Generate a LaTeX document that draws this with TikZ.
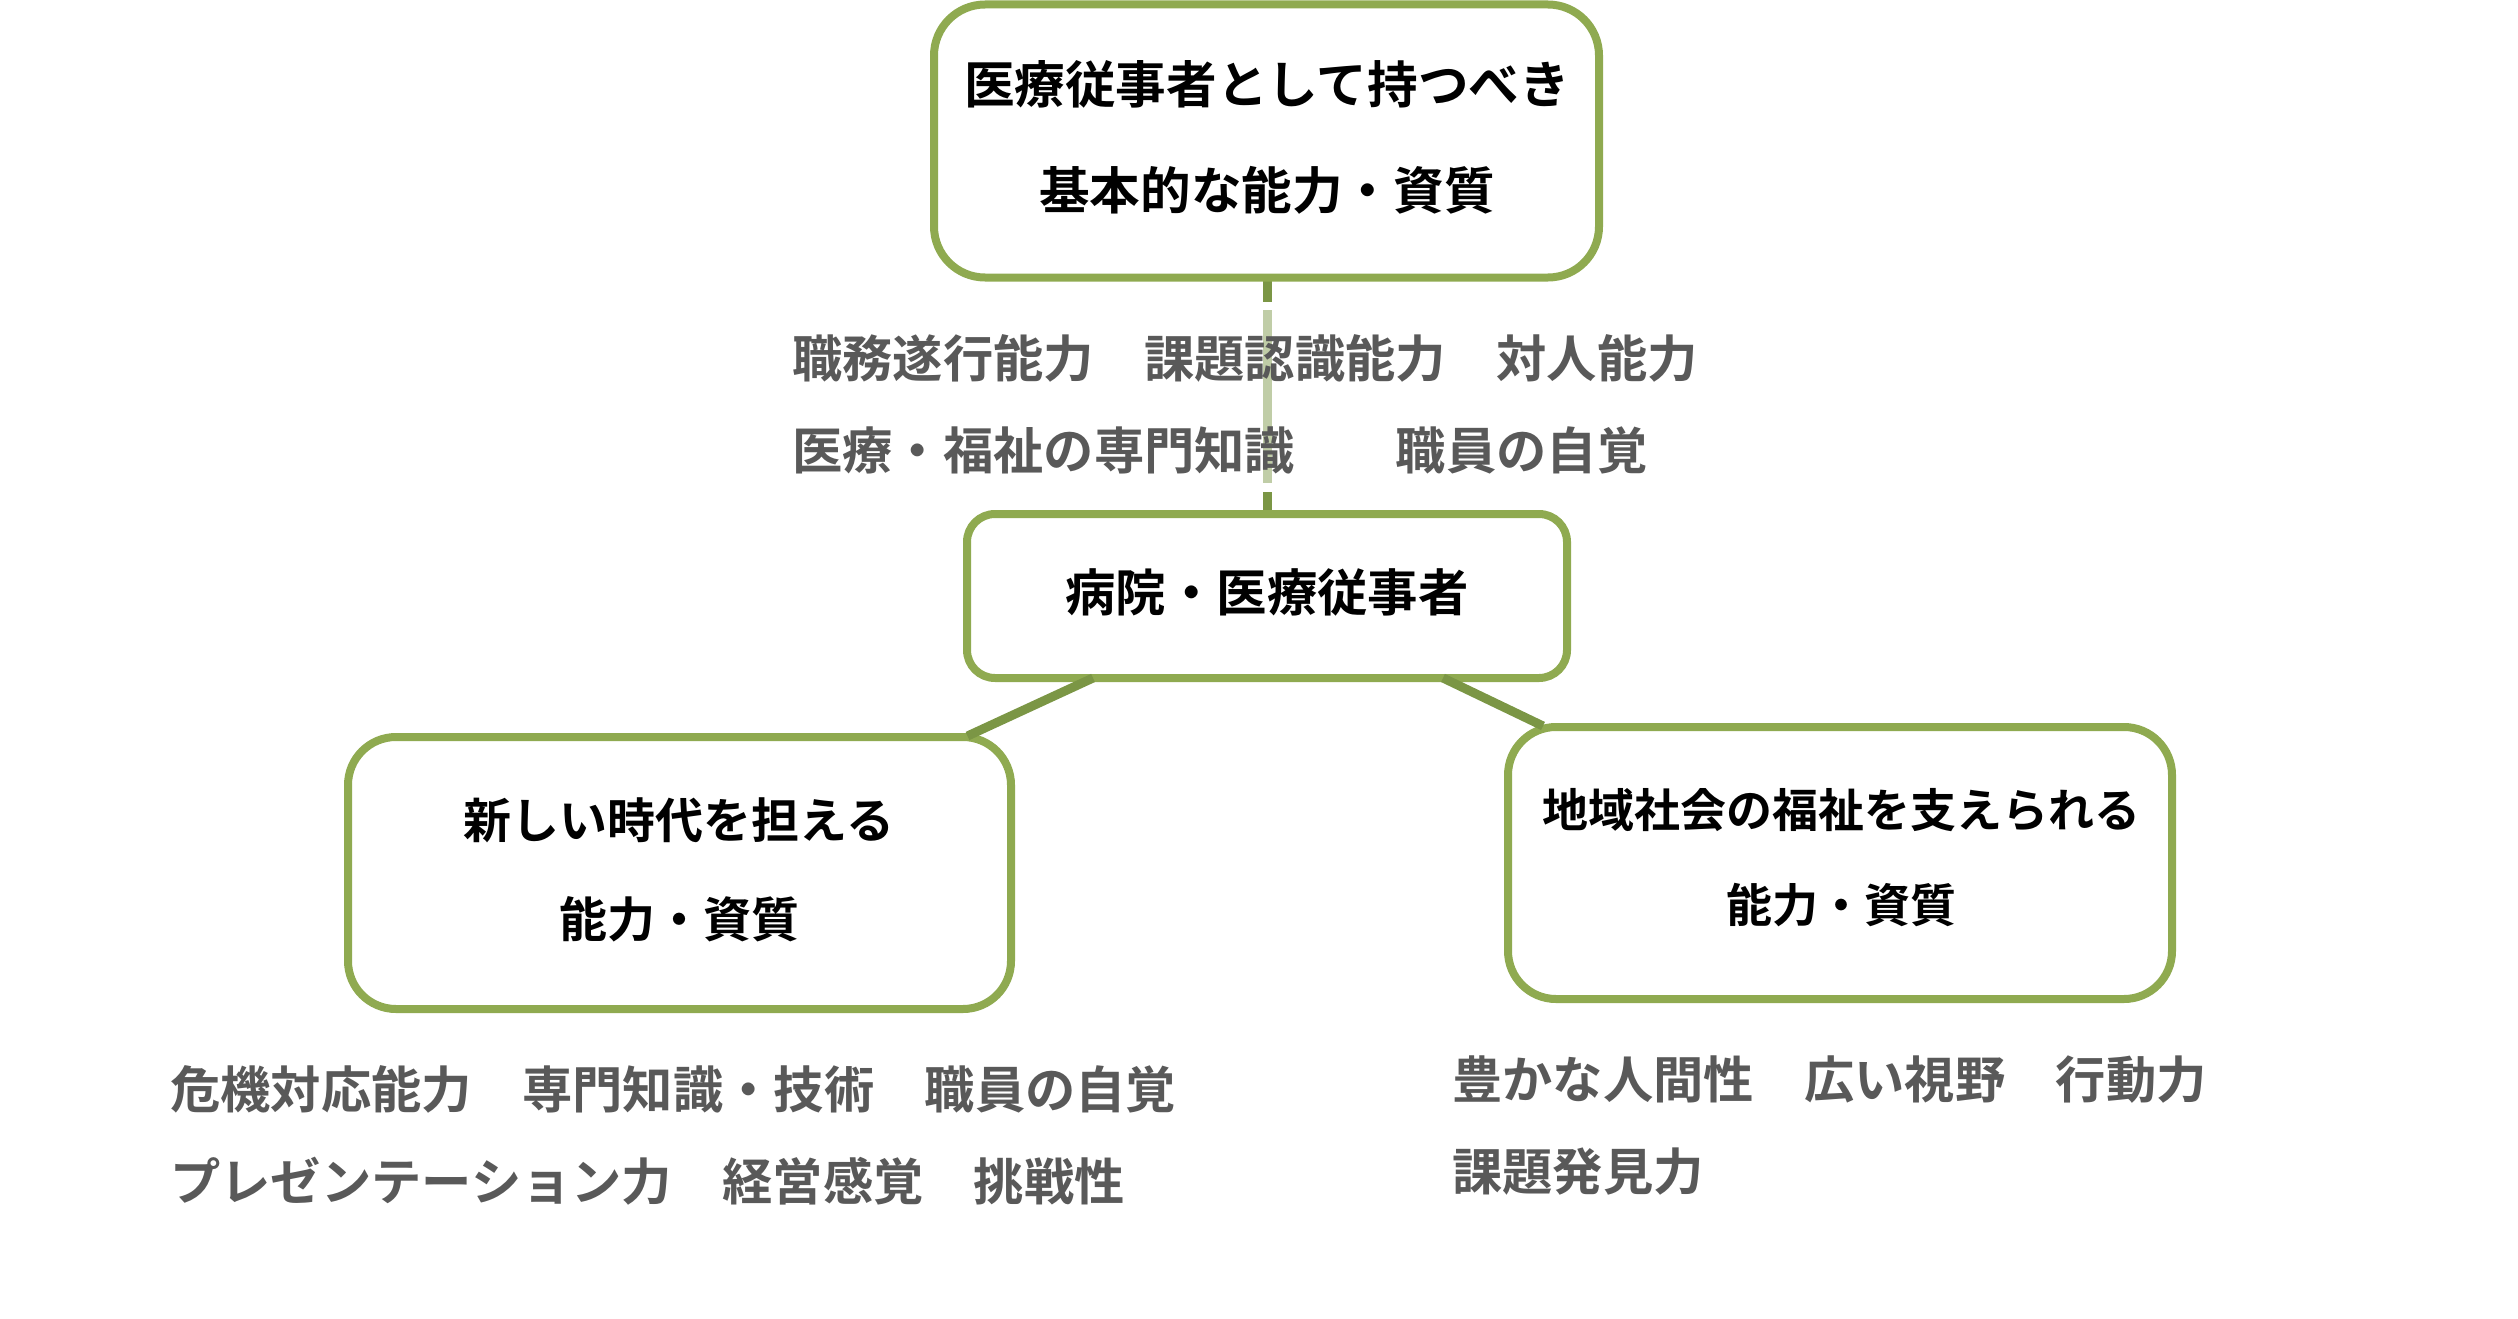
\documentclass[tikz,border=0pt]{standalone}
\usepackage{fontspec}
\newfontfamily\jpb{Noto Sans CJK JP Bold}
\usetikzlibrary{calc}
\definecolor{boxgreen}{HTML}{8FAA50}
\definecolor{linkgreen}{HTML}{7B9645}
\definecolor{labelgray}{HTML}{595959}
\begin{document}
\begin{tikzpicture}[x=1pt,y=-1pt,
  box/.style={draw=boxgreen, line width=8pt, fill=white, rounded corners=#1, inner sep=0pt, outer sep=0pt},
  boxtext/.style={font=\jpb\fontsize{#1}{#1}\selectfont, text=black, inner sep=0pt},
  labtext/.style={font=\jpb\fontsize{50.3}{92}\selectfont, text=labelgray, align=left, inner sep=0pt, anchor=west},
  link/.style={draw=linkgreen, line width=9pt}
]
\useasboundingbox (0,0) rectangle (2518,1319);

% connectors under the boxes
\draw[link] (1267.5,270) coordinate (vtop) -- (1267.5,520) coordinate (vbot);

\node[box=51pt, minimum width=665pt, minimum height=273pt] (top) at (1266.5,141) {};
\node[box=28pt, minimum width=600pt, minimum height=164pt] (mid) at (1267,596) {};
\node[box=48pt, minimum width=663pt, minimum height=272pt] (left) at (679.5,873) {};
\node[box=48pt, minimum width=664pt, minimum height=272pt] (right) at (1840,863) {};

\draw[link] ($(mid.south)+(-174,0)$) -- ($(left.north)+(288,-1)$);
\draw[link] ($(mid.south)+(176,0)$) -- ($(right.north)+(-297,-1)$);

% label background over the vertical connector
\fill[white] (1250,302) rectangle (1285,310);
\fill[white] (1250,483) rectangle (1285,492);
\fill[white, fill opacity=0.53] (1250,310) rectangle (1285,483);

% box texts
\node[boxtext=50.6] (t1) at (1267,84) {医療従事者として持つべき};
\node[boxtext=50.6] (t2) at (1267,190) {基本的な能力・資質};
\node[boxtext=50.4] (m1) at (1267,592) {病院・医療従事者};
\node[boxtext=48] (l1) at (679,820) {新しい時代を担える};
\node[boxtext=48] (l2) at (679,919) {能力・資質};
\node[boxtext=46] (r1) at (1841,810) {地域社会の福祉を支えられる};
\node[boxtext=46] (r2) at (1841,905) {能力・資質};

% labels
\node[labtext] (toplab) at (792,404.5) {職務遂行能力　課題認識能力　対人能力\\医療・福祉の専門知識　　職員の自覚};
\node[labtext] (leftlab) at (170,1135.5) {危機対応能力　専門知識・技術　職員の自覚\\プレゼンテーション力　経営感覚　挑戦性};
\node[labtext] (rightlab) at (1452,1125.5) {豊かな人間性　広い視野　行動力\\課題発見力};
\end{tikzpicture}
\end{document}
